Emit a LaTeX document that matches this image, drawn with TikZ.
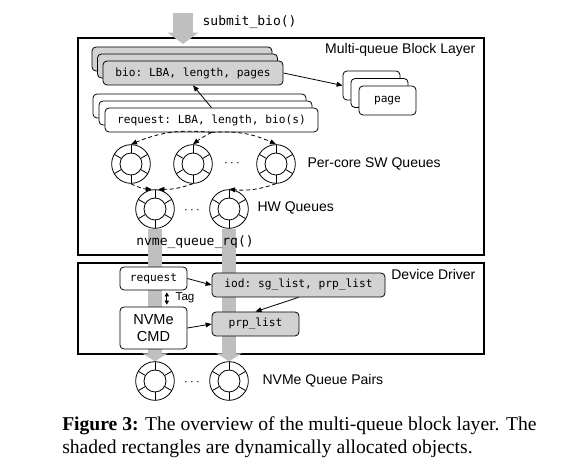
\documentclass[tikz,border=0pt]{standalone}
\usepackage{fontspec}
\setmainfont{Liberation Serif}
\setsansfont{Liberation Sans}
\setmonofont{DejaVu Sans Mono}
\usetikzlibrary{arrows.meta}

\begin{document}
\begin{tikzpicture}[
   x=0.75pt,y=-0.75pt,
   layer/.style={draw,line width=0.8pt,inner sep=0pt},
   obj/.style={draw,rounded corners=3pt,fill=white,line width=0.6pt,inner sep=0pt,
     font=\fontsize{8.4}{10}\selectfont\ttfamily},
   shaded/.style={obj,fill=gray!35},
   ring/.style={circle,draw,line width=0.6pt,minimum size=29pt,inner sep=0pt,
     path picture={
       \draw[line width=0.6pt] (path picture bounding box.center) circle (8.25pt);
       \foreach \a in {30,90,...,330}
         \draw[line width=0.6pt] ([shift={(\a:8.25pt)}]path picture bounding box.center) -- ++(\a:7pt);
     }},
   conn/.style={-{Triangle[length=4.5pt,width=3.6pt]},line width=0.6pt},
   dconn/.style={conn,dash pattern=on 3pt off 2pt},
   bigarrow/.style={gray!50,line width=15pt,-{Triangle[length=8.5pt,width=22.5pt]}},
   bar/.style={gray!50,line width=10.5pt,-{Triangle[length=6pt,width=18.75pt]}},
   lbl/.style={font=\fontsize{10.5}{12.5}\selectfont\sffamily,inner sep=1pt},
   fn/.style={font=\fontsize{9.75}{11}\selectfont\ttfamily,inner sep=1pt}
 ]
  \useasboundingbox (0,0) rectangle (569,466);
  % the two layers
  \node[layer,minimum width=304.5pt,minimum height=162.75pt] (mq) at (281,146.5) {};
  \node[layer,minimum width=304.5pt,minimum height=68.25pt] (dd) at (281,308.5) {};
  \node[lbl,anchor=east] at (477,50) {Multi-queue Block Layer};
  \node[lbl,anchor=east] at (477,275) {Device Driver};
  % submit_bio()
  \coordinate (sb0) at (183,13);
  \coordinate (sb1) at (183,44);
  \draw[bigarrow] (sb0) -- (sb1);
  \node[fn,anchor=west] (sbio) at (201,22) {submit\_bio()};
  % bio, page and request stacks
  \node[shaded,minimum width=135pt,minimum height=18pt] (bio3) at (182,59) {};
  \node[shaded,minimum width=135pt,minimum height=18pt] (bio2) at (187.5,66) {};
  \node[shaded,minimum width=135pt,minimum height=18pt] (bio) at (193,73) {bio: LBA, length, pages};
  \node[obj,minimum width=42.75pt,minimum height=21.75pt] (page3) at (371.5,85.5) {};
  \node[obj,minimum width=42.75pt,minimum height=21.75pt] (page2) at (379.5,93) {};
  \node[obj,minimum width=42.75pt,minimum height=21.75pt] (page) at (387.5,100.5) {page};
  \node[obj,minimum width=159.75pt,minimum height=18pt] (req3) at (199.5,106) {};
  \node[obj,minimum width=159.75pt,minimum height=18pt] (req2) at (205.5,113) {};
  \node[obj,minimum width=159.75pt,minimum height=18pt] (req) at (211.5,120) {request: LBA, length, bio(s)};
  \draw[conn] (bio.east) -- (page3.west);
  \draw[conn] (req.north) -- (bio.south);
  % queues
  \node[ring] (sw1) at (131,164) {};
  \node[ring] (sw2) at (193,164) {};
  \node[ring] (sw3) at (276,164) {};
  \node at (232,164) {$\cdots$};
  \node[lbl,anchor=west] at (306,164) {Per-core SW Queues};
  \node[ring] (hw1) at (155,209) {};
  \node[ring] (hw2) at (229,209) {};
  \node at (192,211) {$\cdots$};
  \node[lbl,anchor=west] at (256,208) {HW Queues};
  \node[ring] (nv1) at (155,381) {};
  \node[ring] (nv2) at (229,381) {};
  \node at (192,383) {$\cdots$};
  \node[lbl,anchor=west] at (261,381) {NVMe Queue Pairs};
  \draw[dconn] (req.south) to[bend right=14] (sw1.north);
  \draw[dconn] (req.south) to[bend right=5] (sw2.north);
  \draw[dconn] (req.south) to[bend left=14] (sw3.north);
  \draw[dconn] (sw1.south) to[bend right=12] ([xshift=-2.5pt]hw1.north);
  \draw[dconn] (sw2.south) to[bend left=10] ([xshift=2.5pt]hw1.north);
  \draw[dconn] (sw3.south) to[bend left=12] (hw2.north);
  % dispatch to the driver
  \draw[bar] (hw1.south) -- (nv1.north);
  \draw[bar] (hw2.south) -- (nv2.north);
  \node[fn] (rq) at (195,242) {nvme\_queue\_rq()};
  % device driver objects
  \node[obj,minimum width=50.25pt,minimum height=17.25pt] (dreq) at (153.5,278.5) {request};
  \node[obj,font=\fontsize{10.9}{12.5}\selectfont\sffamily,align=center,
        minimum width=50.25pt,minimum height=31.5pt] (cmd) at (153.5,328) {NVMe\\CMD};
  \node[shaded,minimum width=129.75pt,minimum height=18pt] (iod) at (298.5,285) {iod: sg\_list, prp\_list};
  \node[shaded,minimum width=65.25pt,minimum height=18pt] (prp) at (255.5,324) {prp\_list};
  \draw[conn] (dreq.east) -- (iod.west);
  \draw[conn] (cmd.east) -- (prp.west);
  \draw[conn] (iod.south) -- (prp.north);
  \draw[{Triangle[length=3pt,width=3.2pt]}-{Triangle[length=3pt,width=3.2pt]},line width=0.6pt,
        shorten <=1.5pt,shorten >=1.5pt] ([xshift=10pt]dreq.south) -- ([xshift=10pt]cmd.north);
  \node[font=\fontsize{8.7}{10}\selectfont\sffamily,anchor=west] (tag) at (171,298) {Tag};
  % caption
  \node[anchor=north west,align=left,font=\fontsize{14.7}{17.25}\selectfont,inner sep=0pt] (cap) at (62,416)
    {\textbf{Figure 3:} The overview of the multi-queue block layer. The\\
     shaded rectangles are dynamically allocated objects.};
\end{tikzpicture}
\end{document}
